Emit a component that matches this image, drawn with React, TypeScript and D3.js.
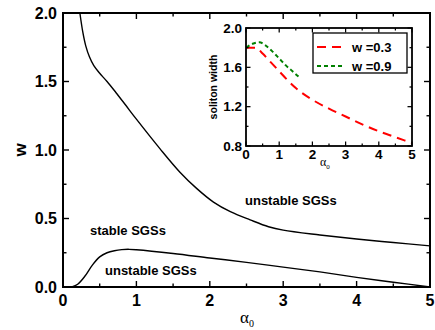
import React, { useEffect, useRef } from 'react';
import * as d3 from 'd3';

// main phase diagram: boundaries in (alpha0, w)
const upperAlpha = [0.23, 0.27, 0.31, 0.36, 0.42, 0.50, 0.60, 0.72, 0.85, 1.0, 1.32, 1.59, 1.82, 2.05, 2.28, 2.55, 2.8, 3.0, 3.5, 4.0, 4.5, 5.0];
const upperW     = [2.0, 1.86, 1.76, 1.68, 1.615, 1.56, 1.50, 1.42, 1.33, 1.225, 1.01, 0.84, 0.72, 0.62, 0.55, 0.49, 0.44, 0.415, 0.38, 0.35, 0.325, 0.30];
const lowerAlpha = [0.12, 0.2, 0.3, 0.4, 0.5, 0.6, 0.7, 0.8, 0.9, 1.0, 1.5, 2.0, 2.5, 3.0, 3.5, 4.0, 4.5, 5.0];
const lowerW     = [0, 0.02, 0.08, 0.16, 0.22, 0.25, 0.265, 0.273, 0.275, 0.272, 0.245, 0.212, 0.18, 0.145, 0.11, 0.07, 0.035, 0.0];

// inset: soliton width vs alpha0
const redAlpha   = [0, 0.3, 0.5, 0.75, 1.0, 1.25, 1.5, 2.0, 2.5, 3.0, 3.5, 4.0, 4.5, 5.0];
const redWidth   = [1.80, 1.80, 1.74, 1.65, 1.56, 1.47, 1.39, 1.27, 1.18, 1.10, 1.02, 0.95, 0.89, 0.83];
const greenAlpha = [0, 0.2, 0.4, 0.6, 0.8, 1.0, 1.2, 1.4, 1.6];
const greenWidth = [1.80, 1.84, 1.855, 1.82, 1.76, 1.69, 1.62, 1.56, 1.50];

const mainXTicks = [0, 1, 2, 3, 4, 5];
const mainYTicks = [0, 0.5, 1.0, 1.5, 2.0];
const insetXTicks = [0, 1, 2, 3, 4, 5];
const insetYTicks = [0.8, 1.2, 1.6, 2.0];
const legendLabels = ['w =0.3', 'w =0.9'];

const BOLD = 'Liberation Sans, Arial, sans-serif';
const SERIF = 'Liberation Serif, Times New Roman, serif';

function frame(g: any, x: any, y: any, xMajor: number[], xMinor: number[], yMajor: number[], yMinor: number[], major: number, minor: number, sw: number) {
  const [x0, x1] = x.range();
  const [y0, y1] = y.range();
  g.append('rect').attr('x', x0).attr('y', y1).attr('width', x1 - x0).attr('height', y0 - y1)
    .attr('fill', 'none').attr('stroke', '#000').attr('stroke-width', sw);
  const tick = (vals: number[], len: number) => {
    vals.forEach(v => {
      g.append('line').attr('x1', x(v)).attr('x2', x(v)).attr('y1', y0).attr('y2', y0 - len).attr('stroke', '#000').attr('stroke-width', sw * 0.7);
      g.append('line').attr('x1', x(v)).attr('x2', x(v)).attr('y1', y1).attr('y2', y1 + len).attr('stroke', '#000').attr('stroke-width', sw * 0.7);
    });
  };
  const ytick = (vals: number[], len: number) => {
    vals.forEach(v => {
      g.append('line').attr('y1', y(v)).attr('y2', y(v)).attr('x1', x0).attr('x2', x0 + len).attr('stroke', '#000').attr('stroke-width', sw * 0.7);
      g.append('line').attr('y1', y(v)).attr('y2', y(v)).attr('x1', x1).attr('x2', x1 - len).attr('stroke', '#000').attr('stroke-width', sw * 0.7);
    });
  };
  tick(xMajor, major); tick(xMinor, minor);
  ytick(yMajor, major); ytick(yMinor, minor);
}

export default function App() {
  const svgRef = useRef<SVGSVGElement>(null);

  useEffect(() => {
    const svg = d3.select(svgRef.current);
    svg.selectAll('*').remove();

    // ---- main plot
    const x = d3.scaleLinear().domain([0, 5]).range([63, 430]);
    const y = d3.scaleLinear().domain([0, 2]).range([287, 13]);
    const line = d3.line<[number, number]>().x(d => x(d[0])).y(d => y(d[1])).curve(d3.curveCatmullRom.alpha(0.5));

    const upper = upperAlpha.map((a, i) => [a, upperW[i]] as [number, number]);
    const lower = lowerAlpha.map((a, i) => [a, lowerW[i]] as [number, number]);
    svg.append('path').attr('d', line(upper)).attr('fill', 'none').attr('stroke', '#000').attr('stroke-width', 1.4);
    svg.append('path').attr('d', line(lower)).attr('fill', 'none').attr('stroke', '#000').attr('stroke-width', 1.4);

    frame(svg, x, y, mainXTicks, [0.5, 1.5, 2.5, 3.5, 4.5], mainYTicks, [0.25, 0.75, 1.25, 1.75], 6, 3.5, 2);

    svg.append('g').selectAll('text').data(mainXTicks).enter().append('text')
      .attr('x', d => x(d)).attr('y', 306).attr('text-anchor', 'middle')
      .attr('font-family', BOLD).attr('font-weight', 'bold').attr('font-size', 16).text(d => d);
    svg.append('g').selectAll('text').data(mainYTicks).enter().append('text')
      .attr('x', 57).attr('y', d => y(d) + 5.5).attr('text-anchor', 'end')
      .attr('font-family', BOLD).attr('font-weight', 'bold').attr('font-size', 16).text(d => d.toFixed(1));

    svg.append('text').attr('transform', 'translate(26,150) rotate(-90)').attr('text-anchor', 'middle')
      .attr('font-family', BOLD).attr('font-weight', 'bold').attr('font-size', 17).text('w');
    const ax = svg.append('text').attr('x', 240).attr('y', 323).attr('font-family', SERIF).attr('font-size', 17);
    ax.append('tspan').text('α');
    ax.append('tspan').attr('dy', 4).attr('font-size', 10).text('0');

    const lbl = (t: string, lx: number, ly: number) =>
      svg.append('text').attr('x', lx).attr('y', ly).attr('font-family', BOLD).attr('font-weight', 'bold').attr('font-size', 13).text(t);
    lbl('stable SGSs', 90, 235);
    lbl('unstable SGSs', 105, 275);
    lbl('unstable SGSs', 245, 205);

    // ---- inset
    const ix = d3.scaleLinear().domain([0, 5]).range([246, 412]);
    const iy = d3.scaleLinear().domain([0.8, 2.0]).range([146, 28]);
    const iline = d3.line<[number, number]>().x(d => ix(d[0])).y(d => iy(d[1])).curve(d3.curveMonotoneX);
    svg.append('rect').attr('x', 246).attr('y', 28).attr('width', 166).attr('height', 118).attr('fill', '#fff');

    const red = redAlpha.map((a, i) => [a, redWidth[i]] as [number, number]);
    const green = greenAlpha.map((a, i) => [a, greenWidth[i]] as [number, number]);
    svg.append('path').attr('d', iline(red)).attr('fill', 'none').attr('stroke', '#ff0000').attr('stroke-width', 2).attr('stroke-dasharray', '9,6');
    svg.append('path').attr('d', iline(green)).attr('fill', 'none').attr('stroke', '#008000').attr('stroke-width', 2).attr('stroke-dasharray', '4,3');

    frame(svg, ix, iy, insetXTicks, [0.5, 1.5, 2.5, 3.5, 4.5], insetYTicks, [1.0, 1.4, 1.8], 4.5, 2.5, 1.8);

    svg.append('g').selectAll('text').data(insetXTicks).enter().append('text')
      .attr('x', d => ix(d)).attr('y', 159).attr('text-anchor', 'middle')
      .attr('font-family', BOLD).attr('font-weight', 'bold').attr('font-size', 13.5).text(d => d);
    svg.append('g').selectAll('text').data(insetYTicks).enter().append('text')
      .attr('x', 242).attr('y', d => iy(d) + 4.5).attr('text-anchor', 'end')
      .attr('font-family', BOLD).attr('font-weight', 'bold').attr('font-size', 13.5).text(d => d.toFixed(1));
    svg.append('text').attr('transform', 'translate(217,87) rotate(-90)').attr('text-anchor', 'middle')
      .attr('font-family', BOLD).attr('font-weight', 'bold').attr('font-size', 10.5).text('soliton width');
    const iax = svg.append('text').attr('x', 320).attr('y', 166).attr('font-family', SERIF).attr('font-size', 12);
    iax.append('tspan').text('α');
    iax.append('tspan').attr('dy', 3).attr('font-size', 7).text('0');

    // legend
    svg.append('rect').attr('x', 313).attr('y', 33).attr('width', 94).attr('height', 40)
      .attr('fill', '#fff').attr('stroke', '#000').attr('stroke-width', 1.3);
    const styles = [{ c: '#ff0000', d: '9,6' }, { c: '#008000', d: '4,3' }];
    legendLabels.forEach((t, i) => {
      const ly = 47 + i * 19;
      svg.append('line').attr('x1', 317).attr('x2', 344).attr('y1', ly).attr('y2', ly)
        .attr('stroke', styles[i].c).attr('stroke-width', 2).attr('stroke-dasharray', styles[i].d);
      svg.append('text').attr('x', 352).attr('y', ly + 5).attr('font-family', BOLD).attr('font-weight', 'bold').attr('font-size', 13).text(t);
    });
  }, []);

  return (
    <div style={{ position: 'absolute', left: 0, top: 0 }}>
      <svg ref={svgRef} width={435} height={330} style={{ display: 'block', background: '#fff' }} />
    </div>
  );
}
